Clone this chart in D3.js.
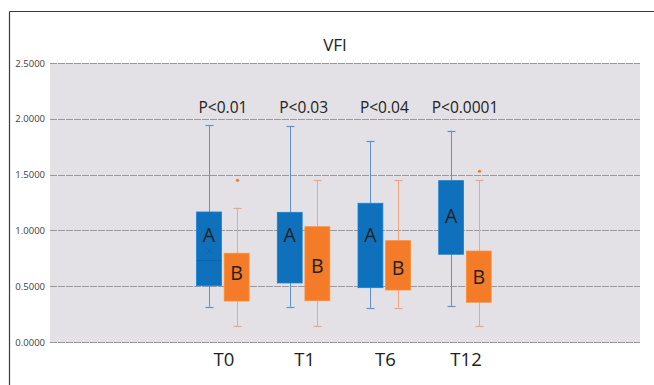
<!DOCTYPE html>
<html>
<head>
<meta charset="utf-8">
<script src="https://cdn.jsdelivr.net/npm/d3@7"></script>
<style>
  html, body { margin: 0; padding: 0; background: #fff; }
  svg { display: block; font-family: "Open Sans", "Noto Sans", sans-serif; }
</style>
</head>
<body>
<svg id="chart" width="654" height="385"></svg>
<script>
// VFI box plot, two groups (A blue, B orange) per time point
const categories = ['T0', 'T1', 'T6', 'T12'];
const pLabels = ['P<0.01', 'P<0.03', 'P<0.04', 'P<0.0001'];
const yTicks = [0, 0.5, 1.0, 1.5, 2.0, 2.5];

// [whiskerLow, q1, q3, whiskerHigh]
const groupA = [
  [0.316, 0.505, 1.165, 1.942],
  [0.316, 0.529, 1.162, 1.933],
  [0.307, 0.487, 1.243, 1.798],
  [0.320, 0.786, 1.446, 1.894]
];
const groupB = [
  [0.140, 0.367, 0.795, 1.204],
  [0.140, 0.370, 1.033, 1.449],
  [0.307, 0.466, 0.908, 1.449],
  [0.140, 0.356, 0.815, 1.449]
];
const medianA = [0.729, null, null, null];
const meanA = [0.818, null, null, null];
const outliersB = [[1.449], [], [], [1.530]];
// where the group letter sits (value on y axis)
const labelPosA = [0.96, 0.96, 0.96, 1.13];
const labelPosB = [0.62, 0.68, 0.66, 0.585];

const svg = d3.select('#chart');
const W = 654, H = 385;
const plot = { left: 50, right: 640, top: 63, bottom: 342 };

// outer frame (top + left only visible)
svg.append('line').attr('x1', 9.5).attr('x2', W).attr('y1', 11.5).attr('y2', 11.5)
  .attr('stroke', '#3a3a3a').attr('stroke-width', 1.2);
svg.append('line').attr('x1', 9.5).attr('x2', 9.5).attr('y1', 11.5).attr('y2', H)
  .attr('stroke', '#3a3a3a').attr('stroke-width', 1.2);

const y = d3.scaleLinear().domain([0, 2.5]).range([plot.bottom, plot.top]);
const x = d3.scaleBand().domain(categories).range([182.6, 505.4]);
const sub = d3.scaleBand().domain(['A', 'B']).range([14, 66.5]).paddingInner(0.1);

svg.append('rect')
  .attr('x', plot.left).attr('y', plot.top)
  .attr('width', plot.right - plot.left).attr('height', plot.bottom - plot.top)
  .attr('fill', '#e3e1e5');

// gridlines + y labels
const yAxis = svg.append('g');
yTicks.forEach(t => {
  yAxis.append('line')
    .attr('x1', plot.left).attr('x2', plot.right)
    .attr('y1', Math.round(y(t)) + 0.5).attr('y2', Math.round(y(t)) + 0.5)
    .attr('stroke', '#9a98a0').attr('stroke-width', 1.2)
    .attr('stroke-dasharray', '7,1');
  yAxis.append('text')
    .attr('x', 45).attr('y', y(t) + 3.5)
    .attr('text-anchor', 'end').attr('font-size', 9.5).attr('fill', '#404040')
    .text(d3.format('.4f')(t));
});

svg.append('text')
  .attr('x', 335).attr('y', 51).attr('text-anchor', 'middle')
  .attr('font-size', 17).attr('fill', '#222').text('VFI');

const groups = [
  { key: 'A', data: groupA, fill: '#0f71bb', whisker: '#5b93cc', labelPos: labelPosA, outliers: categories.map(() => []) },
  { key: 'B', data: groupB, fill: '#f47b28', whisker: '#f4a47a', labelPos: labelPosB, outliers: outliersB }
];

categories.forEach((c, i) => {
  const cx = x(c) + x.bandwidth() / 2;
  svg.append('text')
    .attr('x', cx).attr('y', 113).attr('text-anchor', 'middle')
    .attr('font-size', 15.5).attr('fill', '#222').text(pLabels[i]);
  svg.append('text')
    .attr('x', cx + 1).attr('y', 366).attr('text-anchor', 'middle')
    .attr('font-size', 18.5).attr('fill', '#222').text(c);
});

groups.forEach(g => {
  const layer = svg.append('g');
  g.data.forEach((d, i) => {
    const bx = x(categories[i]) + sub(g.key);
    const bw = sub.bandwidth();
    const mx = Math.round(bx + bw / 2) + 0.5;
    const [lo, q1, q3, hi] = d;
    layer.append('line').attr('x1', mx).attr('x2', mx).attr('y1', y(hi)).attr('y2', y(q3))
      .attr('stroke', g.whisker).attr('stroke-width', 1);
    layer.append('line').attr('x1', mx).attr('x2', mx).attr('y1', y(q1)).attr('y2', y(lo))
      .attr('stroke', g.whisker).attr('stroke-width', 1);
    [lo, hi].forEach(v => {
      layer.append('line').attr('x1', mx - 4).attr('x2', mx + 4)
        .attr('y1', Math.round(y(v)) + 0.5).attr('y2', Math.round(y(v)) + 0.5)
        .attr('stroke', g.whisker).attr('stroke-width', 1.2);
    });
    layer.append('rect')
      .attr('x', bx).attr('y', y(q3)).attr('width', bw).attr('height', y(q1) - y(q3))
      .attr('fill', g.fill).attr('stroke', d3.color(g.fill).brighter(0.4)).attr('stroke-width', 0.8);
    g.outliers[i].forEach(v => {
      layer.append('circle').attr('cx', mx).attr('cy', y(v)).attr('r', 1.6).attr('fill', g.fill);
    });
    if (g.key === 'A' && medianA[i] != null) {
      layer.append('line').attr('x1', bx).attr('x2', bx + bw)
        .attr('y1', y(medianA[i])).attr('y2', y(medianA[i]))
        .attr('stroke', '#0d63a6').attr('stroke-width', 1);
    }
    if (g.key === 'A' && meanA[i] != null) {
      const my = y(meanA[i]);
      layer.append('path').attr('d', `M${mx - 2.5},${my - 2.5}L${mx + 2.5},${my + 2.5}M${mx - 2.5},${my + 2.5}L${mx + 2.5},${my - 2.5}`)
        .attr('stroke', '#0d63a6').attr('stroke-width', 1);
    }
    layer.append('text')
      .attr('x', bx + bw / 2).attr('y', y(g.labelPos[i]) + 7)
      .attr('text-anchor', 'middle').attr('font-size', 19.5).attr('fill', '#222')
      .text(g.key);
  });
});
</script>
</body>
</html>
